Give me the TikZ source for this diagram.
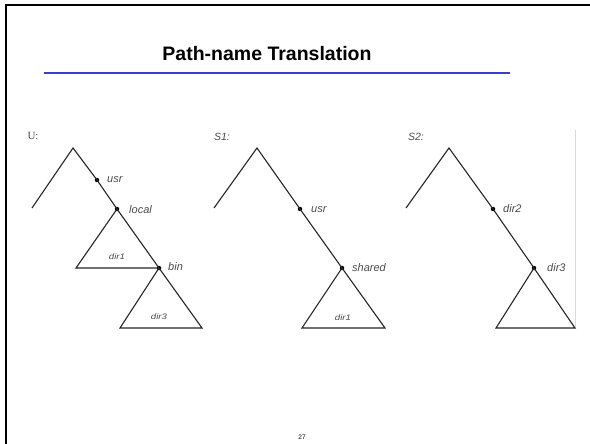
\documentclass[tikz,border=0pt]{standalone}
\usepackage{fontspec}
\setmainfont{Liberation Sans}
\newfontfamily\serifface{Liberation Serif}
\newfontfamily\widesans[FakeStretch=1.2]{Liberation Sans}
\begin{document}
\begin{tikzpicture}[x=1pt,y=-1pt,
  branch/.style={draw=black!85,line width=1.1pt,line join=miter},
  joint/.style={circle,fill=black,inner sep=0pt,minimum size=4.5pt},
  lbl/.style={font=\fontsize{11}{12}\selectfont\itshape,text=black!70,anchor=west,inner sep=0pt},
  sublbl/.style={font=\widesans\fontsize{8}{9}\selectfont\itshape,text=black!70,inner sep=0pt},
  treename/.style={font=\fontsize{10.5}{11}\selectfont\itshape,text=black!70,inner sep=0pt}]
\useasboundingbox (0,0) rectangle (590,444);
\fill[white] (0,0) rectangle (590,444);

% slide frame and title
\draw[line width=2pt] (6,444) -- (6,5) -- (590,5);
\node (title) at (267,54) {\fontsize{19.5}{22}\selectfont\bfseries Path-name Translation};
\draw[color={rgb,255:red,60;green,60;blue,200},line width=2pt] (44,73) -- (510,73);
\draw[black!15,line width=0.8pt] (575,130) -- (575,328);

% tree U
\node[treename,font=\fontsize{11}{12}\selectfont\serifface] (uname) at (33,136) {U:};
\coordinate (ua) at (73,148);
\coordinate (ul) at (32,208);
\node[joint] (uusr) at (97,180) {};
\node[joint] (ulocal) at (117,209) {};
\node[joint] (ubin) at (159,268) {};
\coordinate (uend) at (202,328);
\coordinate (ud1) at (76,268);
\coordinate (ud3) at (120,328);
\draw[branch] (ul) -- (ua) -- (uusr.center) -- (ulocal.center) -- (ubin.center) -- (uend) -- (ud3) -- (ubin.center);
\draw[branch] (ulocal.center) -- (ud1) -- (ubin.center);
\node[lbl] (tusr) at (107,180) {usr};
\node[lbl] (tlocal) at (129,210) {local};
\node[lbl] (tbin) at (168,267) {bin};
\node[sublbl] (tdir1) at (117,257) {dir1};
\node[sublbl] (tdir3) at (159,317) {dir3};

% tree S1
\node[treename] (s1name) at (222,137) {S1:};
\coordinate (sa) at (257,148);
\coordinate (sl) at (214,208);
\node[joint] (susr) at (300,209) {};
\node[joint] (sshared) at (342,268) {};
\coordinate (send) at (385,328);
\coordinate (sb) at (302,328);
\draw[branch] (sl) -- (sa) -- (susr.center) -- (sshared.center) -- (send) -- (sb) -- (sshared.center);
\node[lbl] (tsusr) at (311,210) {usr};
\node[lbl] (tshared) at (352,268) {shared};
\node[sublbl] (tsdir1) at (343,318) {dir1};

% tree S2
\node[treename] (s2name) at (416,137) {S2:};
\coordinate (ta) at (449,148);
\coordinate (tl) at (406,208);
\node[joint] (tdir2) at (493,209) {};
\node[joint] (tdir3d) at (534,268) {};
\coordinate (tend) at (575,328);
\coordinate (tb) at (496,328);
\draw[branch] (tl) -- (ta) -- (tdir2.center) -- (tdir3d.center) -- (tend) -- (tb) -- (tdir3d.center);
\node[lbl] (ltdir2) at (503,209) {dir2};
\node[lbl] (ltdir3) at (547,268) {dir3};

% page number
\node[font=\fontsize{6.5}{7}\selectfont] (page) at (302,437) {27};
\end{tikzpicture}
\end{document}
